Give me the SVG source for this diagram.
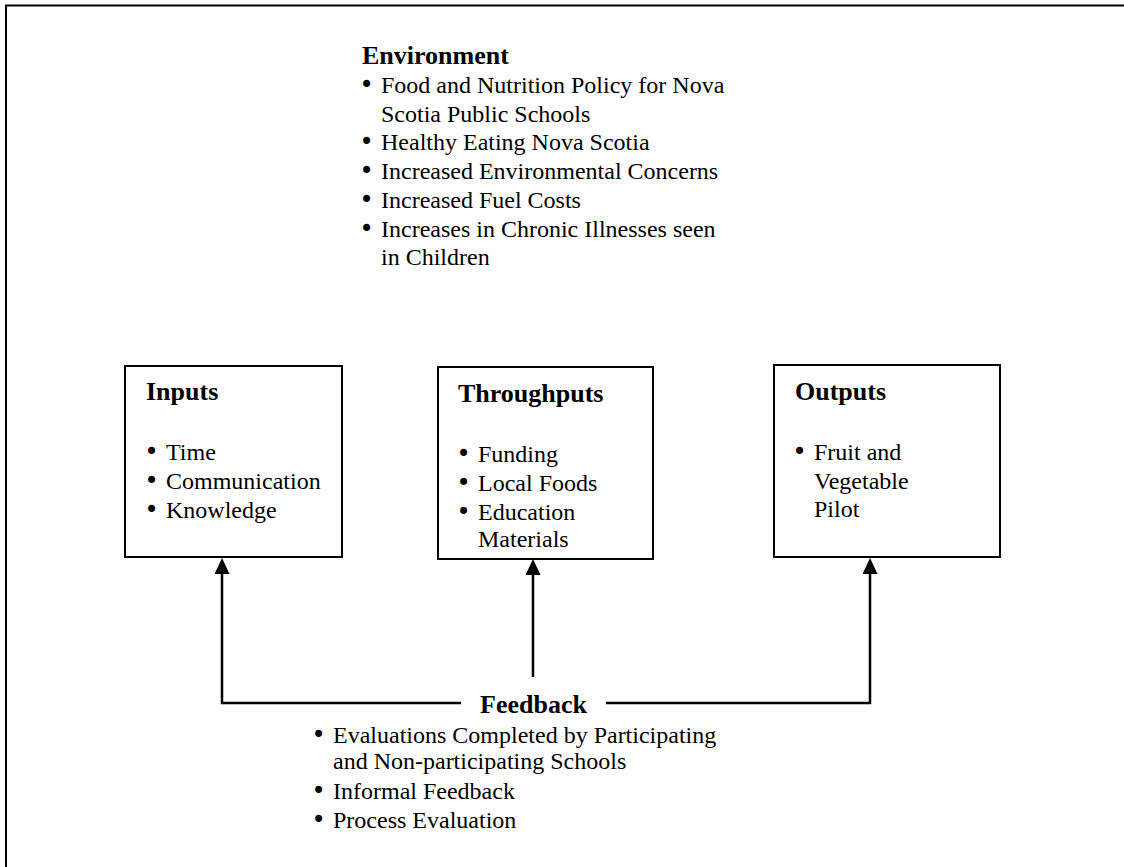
<svg xmlns="http://www.w3.org/2000/svg" width="1124" height="867" viewBox="0 0 1124 867">
<defs>
<style>
text{font-family:"Liberation Serif","Times New Roman",serif;fill:#000}
.h{font-size:26px;font-weight:bold}
.t{font-size:24px}
.b{font-size:24px;font-family:"DejaVu Sans",sans-serif}
.box{fill:#fff;stroke:#000;stroke-width:2}
.ln{fill:none;stroke:#000;stroke-width:2.5}
</style>
<marker id="arr" viewBox="0 0 16 15" refX="0" refY="7.5" markerWidth="16" markerHeight="15" markerUnits="userSpaceOnUse" orient="auto">
<path d="M0,0 L16,7.5 L0,15 Z" fill="#000"/>
</marker>
</defs>
<rect width="1124" height="867" fill="#fff"/>
<path d="M6,868 L6,5.5 L1124,5.5" fill="none" stroke="#000" stroke-width="2"/>

<g id="environment">
<text class="h" x="362" y="64">Environment</text>
<text class="b" x="359.5" y="93">•</text><text class="t" x="381" y="93">Food and Nutrition Policy for Nova</text>
<text class="t" x="381" y="122">Scotia Public Schools</text>
<text class="b" x="359.5" y="150">•</text><text class="t" x="381" y="150">Healthy Eating Nova Scotia</text>
<text class="b" x="359.5" y="179">•</text><text class="t" x="381" y="179">Increased Environmental Concerns</text>
<text class="b" x="359.5" y="208">•</text><text class="t" x="381" y="208">Increased Fuel Costs</text>
<text class="b" x="359.5" y="237">•</text><text class="t" x="381" y="237">Increases in Chronic Illnesses seen</text>
<text class="t" x="381" y="265">in Children</text>
</g>

<g id="inputs">
<rect class="box" x="125" y="366" width="217" height="191"/>
<text class="h" x="146" y="400">Inputs</text>
<text class="b" x="144.5" y="460">•</text><text class="t" x="166" y="460">Time</text>
<text class="b" x="144.5" y="489">•</text><text class="t" x="166" y="489">Communication</text>
<text class="b" x="144.5" y="518">•</text><text class="t" x="166" y="518">Knowledge</text>
</g>

<g id="throughputs">
<rect class="box" x="438" y="367" width="215" height="192"/>
<text class="h" x="458" y="402">Throughputs</text>
<text class="b" x="456.5" y="462">•</text><text class="t" x="478" y="462">Funding</text>
<text class="b" x="456.5" y="491">•</text><text class="t" x="478" y="491">Local Foods</text>
<text class="b" x="456.5" y="520">•</text><text class="t" x="478" y="520">Education</text>
<text class="t" x="478" y="547">Materials</text>
</g>

<g id="outputs">
<rect class="box" x="774" y="365" width="226" height="192"/>
<text class="h" x="795" y="400">Outputs</text>
<text class="b" x="792.5" y="460">•</text><text class="t" x="814" y="460">Fruit and</text>
<text class="t" x="814" y="489">Vegetable</text>
<text class="t" x="814" y="517">Pilot</text>
</g>

<g id="feedback">
<text class="h" x="480" y="713">Feedback</text>
<text class="b" x="311.5" y="743">•</text><text class="t" x="333" y="743">Evaluations Completed by Participating</text>
<text class="t" x="333" y="769">and Non-participating Schools</text>
<text class="b" x="311.5" y="799">•</text><text class="t" x="333" y="799">Informal Feedback</text>
<text class="b" x="311.5" y="828">•</text><text class="t" x="333" y="828">Process Evaluation</text>
</g>

<g id="connectors">
<path class="ln" d="M461,703 L222,703 L222,574" marker-end="url(#arr)"/>
<path class="ln" d="M606,703 L870,703 L870,574" marker-end="url(#arr)"/>
<path class="ln" d="M533,677 L533,575" marker-end="url(#arr)"/>
</g>
</svg>
